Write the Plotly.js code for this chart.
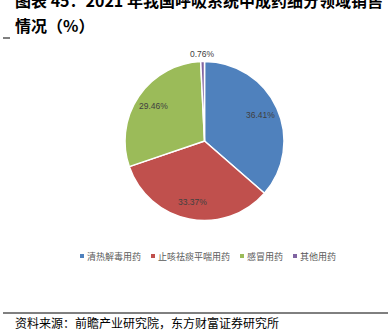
<!DOCTYPE html>
<html>
<head>
<meta charset="utf-8">
<script src="https://cdn.plot.ly/plotly-3.0.1.min.js"></script>
<style>
  html, body { margin: 0; padding: 0; background: #ffffff; }
  #chart { width: 388px; height: 333px; }
</style>
</head>
<body>
<div id="chart"></div>
<script>
// 2021 respiratory-system TCM sales, share by sub-segment (%)
const categories = ['清热解毒用药', '止咳祛痰平喘用药', '感冒用药', '其他用药'];
const shares = [36.41, 33.37, 29.46, 0.76];
const colors = ['#4F81BD', '#C0504D', '#9BBB59', '#8064A2'];

const titleLine1 = '图表 45：2021 年我国呼吸系统中成药细分领域销售';
const titleLine2 = '情况（%）';
const sourceText = '资料来源：前瞻产业研究院，东方财富证券研究所';

const W = 388, H = 333;
const px = x => x / W;           // pixel -> paper (x)
const py = y => 1 - y / H;       // pixel -> paper (y)

// pie geometry (pixels)
const cx = 204.5, cy = 141, R = 79.5;

const cjk = '"Noto Sans CJK SC", "Noto Sans", sans-serif';
const latin = '"Liberation Sans", Arial, sans-serif';

const trace = {
  type: 'pie',
  values: shares,
  labels: categories,
  sort: false,
  direction: 'clockwise',
  rotation: 0,
  marker: { colors: colors, line: { color: '#ffffff', width: 1.5 } },
  textinfo: 'none',
  hoverinfo: 'label+value',
  showlegend: false,
  domain: { x: [px(cx - R), px(cx + R)], y: [py(cy + R), py(cy - R)] }
};

const annotations = [];
const shapes = [];

// slice value labels placed along each slice's mid-angle
const total = shares.reduce((a, b) => a + b, 0);
let acc = 0;
shares.forEach(v => {
  const mid = (acc + v / 2) / total * 2 * Math.PI;
  acc += v;
  const f = v / total < 0.05 ? 1.1 : 0.78;
  const x = cx + Math.sin(mid) * R * f;
  const y = cy - Math.cos(mid) * R * f;
  annotations.push({
    xref: 'paper', yref: 'paper', x: px(x), y: py(y),
    xanchor: 'center', yanchor: 'middle', showarrow: false,
    text: v.toFixed(2) + '%',
    font: { family: latin, size: 8.5, color: '#404040' }
  });
});

// title (two lines, bold)
annotations.push({
  xref: 'paper', yref: 'paper', x: px(13), y: py(0), xanchor: 'left', yanchor: 'middle',
  showarrow: false, text: '<b>' + titleLine1 + '</b>',
  font: { family: cjk, size: 16, color: '#000000' }
});
annotations.push({
  xref: 'paper', yref: 'paper', x: px(13), y: py(25), xanchor: 'left', yanchor: 'middle',
  showarrow: false, text: '<b>' + titleLine2 + '</b>',
  font: { family: cjk, size: 16, color: '#000000' }
});

// source note
annotations.push({
  xref: 'paper', yref: 'paper', x: px(13), y: py(322), xanchor: 'left', yanchor: 'middle',
  showarrow: false, text: sourceText,
  font: { family: cjk, size: 12, color: '#000000' }
});

// legend row
let lx = 80;
const ly = 256;
categories.forEach((c, i) => {
  shapes.push({
    type: 'rect', xref: 'paper', yref: 'paper',
    x0: px(lx), x1: px(lx + 4), y0: py(ly + 2), y1: py(ly - 2),
    fillcolor: colors[i], line: { width: 0 }
  });
  annotations.push({
    xref: 'paper', yref: 'paper', x: px(lx + 5), y: py(ly), xanchor: 'left', yanchor: 'middle',
    showarrow: false, text: c,
    font: { family: cjk, size: 9, color: '#595959' }
  });
  lx += 5 + c.length * 9 + 12;
});

// rule above the source note and the short mark under the title
shapes.push({
  type: 'line', xref: 'paper', yref: 'paper',
  x0: px(3), x1: px(388), y0: py(313), y1: py(313),
  line: { color: '#000000', width: 1 }
});
shapes.push({
  type: 'line', xref: 'paper', yref: 'paper',
  x0: px(3), x1: px(10), y0: py(38), y1: py(38),
  line: { color: '#000000', width: 1 }
});

const layout = {
  width: W, height: H,
  margin: { l: 0, r: 0, t: 0, b: 0 },
  paper_bgcolor: '#ffffff',
  plot_bgcolor: '#ffffff',
  annotations: annotations,
  shapes: shapes
};

Plotly.newPlot('chart', [trace], layout, { displayModeBar: false, staticPlot: true });
</script>
</body>
</html>
